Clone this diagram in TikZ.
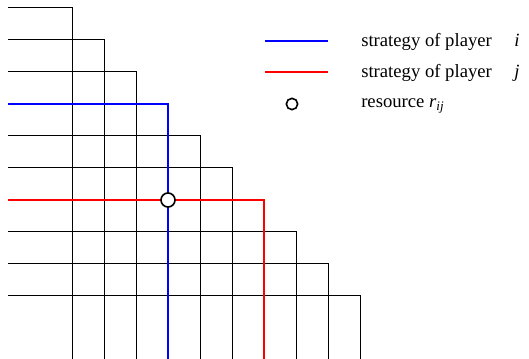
\documentclass[tikz,border=0pt]{standalone}
\usepackage{fontspec}
\setmainfont{Liberation Serif}
\usepackage{tikz}
\usetikzlibrary{positioning}
\tikzset{
    % grid of strategies
    path line/.style={
        draw=black,
        line width=0.75pt
    },
    path blue/.style={
        draw=blue,
        line width=1.5pt
    },
    path red/.style={
        draw=red,
        line width=1.5pt
    },
    resource/.style={
        circle,
        draw=black,
        fill=white,
        line width=1.2pt,
        inner sep=0pt,
        minimum size=10.5pt
    },
    resource small/.style={
        resource,
        minimum size=8.5pt
    },
    legend text/.style={
        anchor=base west,
        inner sep=0pt,
        font=\rmfamily\fontsize{14}{16}\selectfont
    }
}
\begin{document}
\begin{tikzpicture}[x=0.75pt, y=-0.75pt]
        \useasboundingbox (0,0) rectangle (529,359);

        % Staircase of strategies
        \foreach \k in {0,...,9} {
            \coordinate (s\k) at (8,{8+32*\k});
            \coordinate (c\k) at ({72+32*\k},{8+32*\k});
            \coordinate (e\k) at ({72+32*\k},359);
            \draw[path line] (s\k) -- (c\k) -- (e\k);
        }

        % Strategies of players i and j
        \draw[path blue] (s3) -- (c3) -- (e3);
        \draw[path red] (s6) -- (c6) -- (e6);

        % Shared resource
        \node[resource] (rij) at (c3 |- s6) {};

        % Legend
        \coordinate (lb1) at (265,41);
        \coordinate (lb2) at (328,41);
        \coordinate (lr1) at (265,72);
        \coordinate (lr2) at (328,72);
        \draw[path blue] (lb1) -- (lb2);
        \draw[path red] (lr1) -- (lr2);
        \node[resource small] (lres) at (292,104) {};
        \node[legend text] (tb) at (361,47) {strategy of player\hspace{1.2em}\textit{i}};
        \node[legend text] (tr) at (361,78) {strategy of player\hspace{1.2em}\textit{j}};
        \node[legend text] (tres) at (361,108) {resource \textit{r}\textsubscript{\textit{ij}}};
    \end{tikzpicture}
\end{document}
